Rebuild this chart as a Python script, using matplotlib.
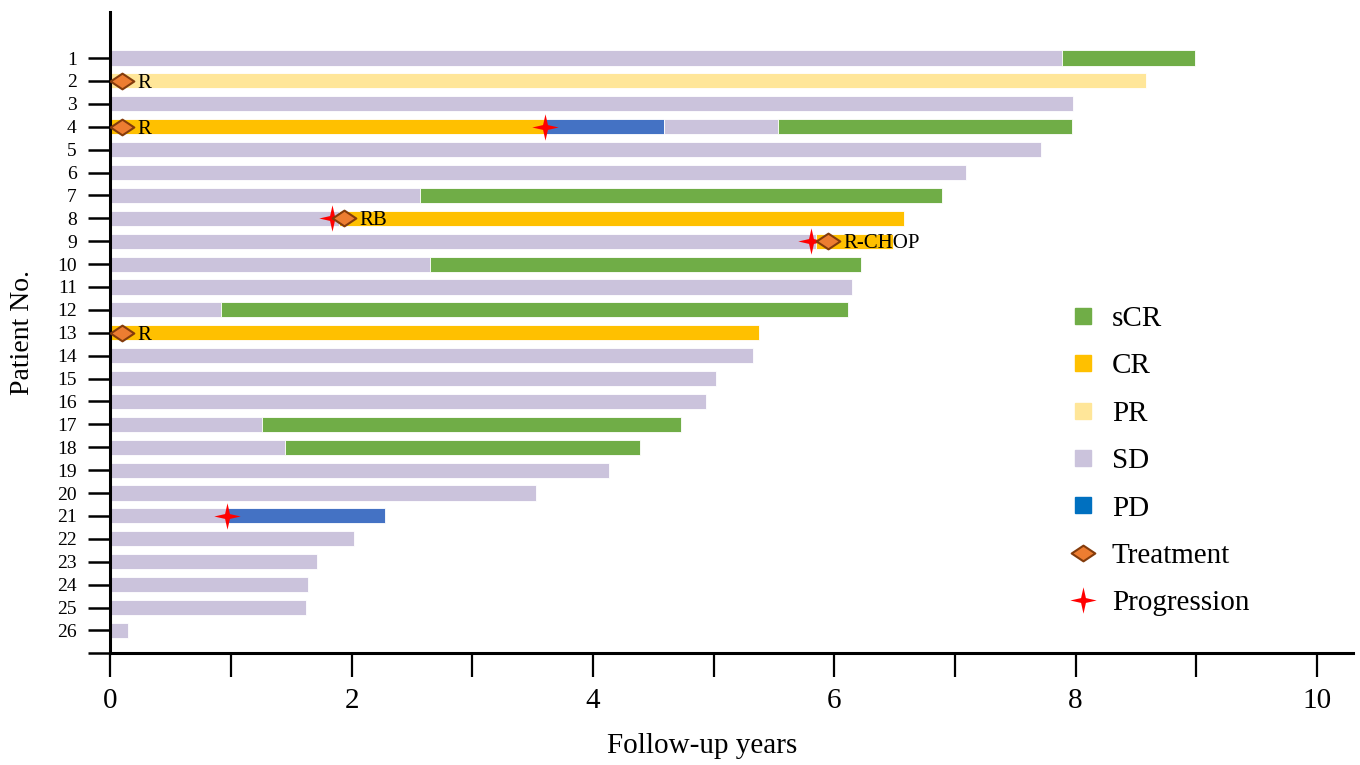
import numpy as np
from matplotlib import pyplot as plt
from matplotlib.lines import Line2D
from matplotlib.path import Path

plt.rcParams['font.family'] = ['Liberation Serif', 'DejaVu Serif']

# response segments per patient: (status, end year); each starts where the previous ended
patients = list(range(1, 27))
segments = [
    [('SD', 7.89), ('sCR', 8.99)],
    [('PR', 8.58)],
    [('SD', 7.98)],
    [('CR', 3.60), ('PD', 4.59), ('SD', 5.53), ('sCR', 7.97)],
    [('SD', 7.71)],
    [('SD', 7.09)],
    [('SD', 2.57), ('sCR', 6.89)],
    [('SD', 1.90), ('CR', 6.58)],
    [('SD', 5.85), ('CR', 6.49)],
    [('SD', 2.65), ('sCR', 6.22)],
    [('SD', 6.15)],
    [('SD', 0.92), ('sCR', 6.11)],
    [('CR', 5.38)],
    [('SD', 5.33)],
    [('SD', 5.02)],
    [('SD', 4.94)],
    [('SD', 1.26), ('sCR', 4.73)],
    [('SD', 1.45), ('sCR', 4.39)],
    [('SD', 4.13)],
    [('SD', 3.53)],
    [('SD', 0.97), ('PD', 2.28)],
    [('SD', 2.02)],
    [('SD', 1.71)],
    [('SD', 1.64)],
    [('SD', 1.62)],
    [('SD', 0.15)],
]

treat_patient = [2, 4, 8, 9, 13]
treat_time = [0.1, 0.1, 1.94, 5.95, 0.1]
treat_label = ['R', 'R', 'RB', 'R-CHOP', 'R']

prog_patient = [4, 8, 9, 21]
prog_time = [3.60, 1.84, 5.81, 0.97]

status_order = ['sCR', 'CR', 'PR', 'SD', 'PD']
status_color = {'sCR': '#70AD47', 'CR': '#FFC000', 'PR': '#FFE699',
                'SD': '#CBC3DC', 'PD': '#4472C4'}
legend_color = dict(status_color, PD='#0070C0')

diamond = Path([(0, 1), (1.5, 0), (0, -1), (-1.5, 0), (0, 1)],
               [Path.MOVETO, Path.LINETO, Path.LINETO, Path.LINETO, Path.CLOSEPOLY])
ang = np.deg2rad(np.arange(0, 360, 45))
rad = np.where(np.arange(8) % 2 == 0, 1.0, 0.26)
star_pts = list(zip(rad * np.cos(ang), rad * np.sin(ang)))
star = Path(star_pts + [star_pts[0]], [Path.MOVETO] + [Path.LINETO] * 7 + [Path.CLOSEPOLY])

fig = plt.figure(figsize=(13.6, 7.65), dpi=100)
ax = fig.add_axes([0.081, 0.146, 0.914, 0.838])

for p, segs in zip(patients, segments):
    start = 0
    for status, end in segs:
        ax.barh(p, end - start, left=start, height=0.66, color=status_color[status],
                edgecolor='white', linewidth=0.6, zorder=2)
        start = end

ax.plot(treat_time, treat_patient, linestyle='none', marker=diamond, markersize=17,
        markerfacecolor='#ED7D31', markeredgecolor='#843C0C', markeredgewidth=1.5, zorder=4)
for t, p, lab in zip(treat_time, treat_patient, treat_label):
    ax.annotate(lab, (t, p), xytext=(11, 0), textcoords='offset points',
                va='center_baseline', ha='left', fontsize=15, zorder=5)
ax.plot(prog_time, prog_patient, linestyle='none', marker=star, markersize=19,
        color='#FF0000', markeredgewidth=0, zorder=3)

ax.set_xlim(0, 10.3)
ax.set_ylim(27, -1)
ax.set_xticks(range(0, 11, 2))
ax.set_xticks(range(1, 11, 2), minor=True)
ax.set_yticks(range(1, 28))
ax.set_yticklabels([str(p) for p in patients] + [''])
ax.tick_params(axis='x', which='both', length=17, width=1.6, direction='out', labelsize=21, pad=8)
ax.tick_params(axis='y', length=16, width=1.8, direction='out', labelsize=14, pad=8)
for s in ['top', 'right']:
    ax.spines[s].set_visible(False)
for s in ['left', 'bottom']:
    ax.spines[s].set_linewidth(2.2)

ax.set_xlabel('Follow-up years', fontsize=21)
ax.xaxis.set_label_coords(0.4765, -0.125)
ax.set_ylabel('Patient No.', fontsize=20, labelpad=16)

handles = [Line2D([], [], linestyle='none', marker='s', markersize=11,
                  color=legend_color[s], label=s) for s in status_order]
handles.append(Line2D([], [], linestyle='none', marker=diamond, markersize=17,
                      markerfacecolor='#ED7D31', markeredgecolor='#843C0C',
                      markeredgewidth=1.5, label='Treatment'))
handles.append(Line2D([], [], linestyle='none', marker=star, markersize=19,
                      color='#FF0000', markeredgewidth=0, label='Progression'))
fig.legend(handles=handles, loc='upper left', bbox_to_anchor=(0.764, 0.635),
           frameon=False, fontsize=21, labelspacing=0.72, handletextpad=0.4,
           handlelength=1.2)

fig.savefig('out.png', dpi=100)
